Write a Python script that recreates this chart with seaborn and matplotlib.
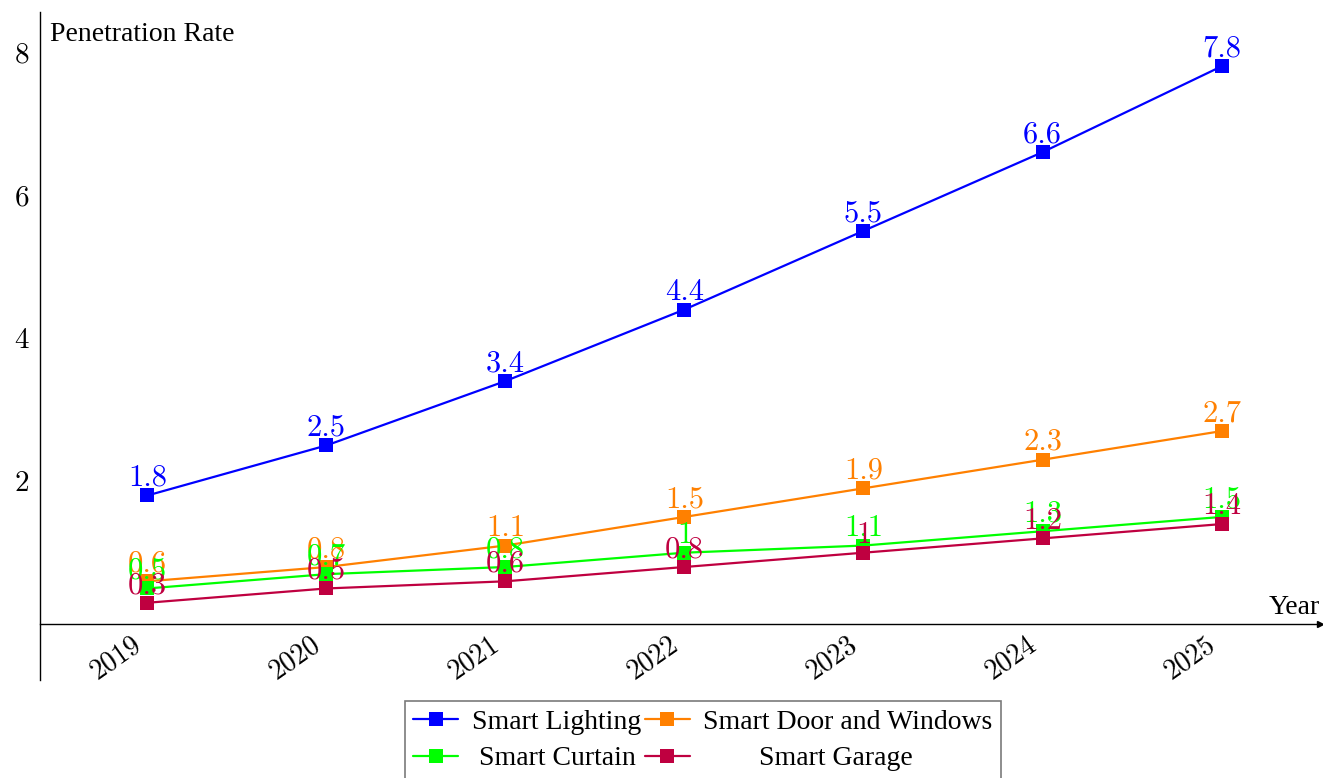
import matplotlib
matplotlib.use("Agg")
import matplotlib.pyplot as plt
import seaborn as sns
import pandas as pd

# Smart-home penetration rates by year
years = [2019, 2020, 2021, 2022, 2023, 2024, 2025]
smart_lighting = [1.8, 2.5, 3.4, 4.4, 5.5, 6.6, 7.8]
smart_door_windows = [0.6, 0.8, 1.1, 1.5, 1.9, 2.3, 2.7]
smart_curtain = [0.5, 0.7, 0.8, 1.0, 1.1, 1.3, 1.5]
smart_garage = [0.3, 0.5, 0.6, 0.8, 1.0, 1.2, 1.4]
series_names = ["Smart Lighting", "Smart Door and Windows", "Smart Curtain", "Smart Garage"]
series_values = [smart_lighting, smart_door_windows, smart_curtain, smart_garage]
series_colors = ["#0000FF", "#FF8000", "#00FF00", "#BF0040"]
y_ticks = [2, 4, 6, 8]

sns.set_style("white")
plt.rcParams["font.family"] = ["Liberation Serif", "DejaVu Serif"]
plt.rcParams["text.color"] = "black"
NUM_FONT = "cmr10"

df = pd.DataFrame({
    "year": years * len(series_names),
    "rate": sum(series_values, []),
    "series": [n for n in series_names for _ in years],
})

fig = plt.figure(figsize=(13.23, 7.78), dpi=100)
ax = fig.add_axes([40 / 1323, (778 - 680) / 778, 1280 / 1323, 668 / 778])

handles = []
for i, (name, color) in enumerate(zip(series_names, series_colors)):
    sub = df[df["series"] == name]
    sns.lineplot(data=sub, x="year", y="rate", color=color, marker="s",
                 markersize=10, markeredgewidth=0, linewidth=1.6,
                 ax=ax, zorder=3 + i, legend=False)
    handles.append(ax.lines[-1])
    for x, v in zip(sub["year"], sub["rate"]):
        ax.annotate(f"{v:g}", (x, v), xytext=(0, 7), textcoords="offset points",
                    ha="center", va="baseline", color=color, fontsize=22,
                    family=NUM_FONT, zorder=3 + i, annotation_clip=False)

ax.set_xlim(2018.40, 2025.55)
ax.set_ylim(-0.78, 8.56)

# axis lines through the origin, with arrow tips
ax.spines["top"].set_visible(False)
ax.spines["right"].set_visible(False)
ax.spines["bottom"].set_position(("data", 0))
for s in ("left", "bottom"):
    ax.spines[s].set_color("black")
    ax.spines[s].set_linewidth(1.0)
ax.plot(1, 0, marker=">", color="black", markersize=5,
        transform=ax.get_yaxis_transform(), clip_on=False)
ax.plot(0, 1, marker="^", color="black", markersize=5,
        transform=ax.get_xaxis_transform(), clip_on=False)

# year ticks; their rotated labels hang just left of each tick
ax.set_xticks(years)
ax.set_xticklabels([])
for y in years:
    ax.annotate(str(y), (y, 0), xytext=(-11.5, -5), textcoords="offset points",
                rotation=35, rotation_mode="anchor", ha="right", va="top",
                family=NUM_FONT, fontsize=20, color="black",
                annotation_clip=False)
ax.set_yticks(y_ticks)
ax.set_yticklabels([str(t) for t in y_ticks], family=NUM_FONT, fontsize=21)
ax.tick_params(axis="both", direction="inout", length=8, width=0.8,
               color="0.65", labelcolor="black", pad=4)
ax.set_xlabel("")
ax.set_ylabel("")
ax.grid(False)

ax.text(0.008, 0.985, "Penetration Rate", transform=ax.transAxes,
        fontsize=20, ha="left", va="top")
ax.text(1.0, (680 - 614) / 668, "Year", transform=ax.transAxes,
        fontsize=20, ha="right", va="baseline")

# legend filled row by row: Lighting, Door / Curtain, Garage
order = [0, 2, 1, 3]
labels = ["Smart Lighting", "Smart Door and Windows", " Smart Curtain", "        Smart Garage"]
leg = fig.legend([handles[k] for k in order], [labels[k] for k in order],
                 ncol=2, loc="upper left",
                 bbox_to_anchor=(405 / 1323, 1 - 701 / 778), borderaxespad=0,
                 fontsize=20, frameon=True, fancybox=False, shadow=False,
                 handlelength=1.6, handletextpad=0.5, columnspacing=0.15,
                 labelspacing=0.4, borderpad=0.3)
leg.get_frame().set_edgecolor("0.35")
leg.get_frame().set_linewidth(1.2)

fig.savefig("out.png", dpi=100)
